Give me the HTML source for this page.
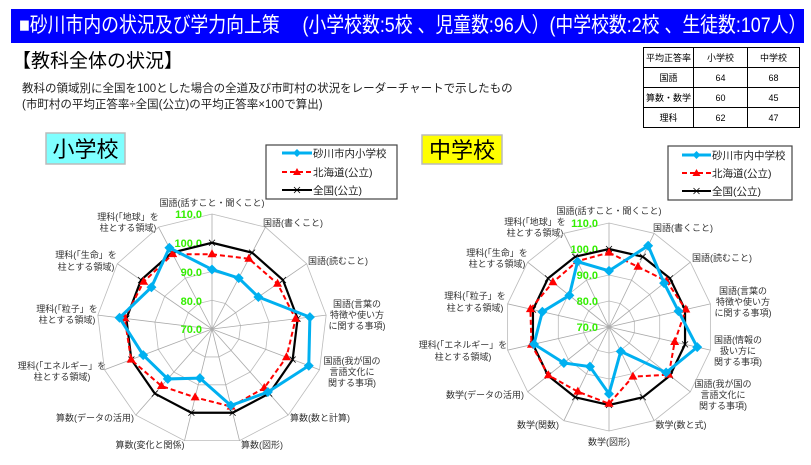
<!DOCTYPE html>
<html><head><meta charset="utf-8"><style>
body{margin:0;width:811px;height:465px;background:#fff;overflow:hidden;font-family:"Liberation Sans","Noto Sans CJK JP",sans-serif;position:relative}
.bar{position:absolute;left:11px;top:9px;width:793px;height:34px;background:#0000ff;color:#fff;font-size:21px;line-height:34px;padding-left:8px;box-sizing:border-box;white-space:nowrap;overflow:hidden}
.bar span{display:inline-block;transform:scaleX(0.85);transform-origin:0 50%}
.h2{position:absolute;left:12px;top:50px;font-size:19px;line-height:24px}
.d{position:absolute;left:22px;font-size:11.5px;color:#222;white-space:nowrap}
table{position:absolute;left:643px;top:47px;border-collapse:collapse;font-size:9px}
td{border:1.5px solid #000;text-align:center;padding:0;height:19px}
svg{position:absolute;left:0;top:0}
</style></head><body>
<div class="bar"><span>■砂川市内の状況及び学力向上策　 (小学校数:5校 、児童数:96人）(中学校数:2校 、生徒数:107人）</span></div>
<div class="h2">【教科全体の状況】</div>
<div class="d" style="top:80px">教科の領域別に全国を100とした場合の全道及び市町村の状況をレーダーチャートで示したもの</div>
<div class="d" style="top:96px">(市町村の平均正答率÷全国(公立)の平均正答率×100で算出)</div>
<table><tr><td style="width:49px">平均正答率</td><td style="width:53px">小学校</td><td style="width:51px">中学校</td></tr>
<tr><td>国語</td><td>64</td><td>68</td></tr><tr><td>算数・数学</td><td>60</td><td>45</td></tr><tr><td>理科</td><td>62</td><td>47</td></tr></table>
<svg id="s" width="811" height="465" xmlns="http://www.w3.org/2000/svg" font-family="Liberation Sans, Noto Sans CJK JP, sans-serif">
<rect x="46" y="133" width="79" height="31" fill="#7fffff" stroke="#bbb" stroke-width="1.5"/>
<text x="85.5" y="157" font-size="22" text-anchor="middle">小学校</text>
<rect x="422" y="135" width="80" height="29" fill="#ffff00" stroke="#bbb" stroke-width="1.5"/>
<text x="462" y="158" font-size="22" text-anchor="middle">中学校</text>
<rect x="266" y="145" width="131" height="54" fill="#fff" stroke="#444" stroke-width="1.2"/>
<rect x="668" y="146" width="124" height="54" fill="#fff" stroke="#444" stroke-width="1.2"/>
<g font-size="10.5" fill="#222">
<text x="313" y="157">砂川市内小学校</text><text x="313" y="176">北海道(公立)</text><text x="313" y="194">全国(公立)</text>
<text x="712" y="159">砂川市内中学校</text><text x="712" y="177">北海道(公立)</text><text x="712" y="195">全国(公立)</text>
</g>
<g font-size="9" fill="#333" text-anchor="middle">
<text x="212" y="206">国語(話すこと・聞くこと)</text>
<text x="293" y="226">国語(書くこと)</text>
<text x="338" y="264">国語(読むこと)</text>
<text x="357" y="307">国語(言葉の</text><text x="357" y="318">特徴や使い方</text><text x="357" y="329">に関する事項)</text>
<text x="352" y="364">国語(我が国の</text><text x="352" y="375">言語文化に</text><text x="352" y="386">関する事項)</text>
<text x="320" y="421">算数(数と計算)</text>
<text x="262" y="448">算数(図形)</text>
<text x="150" y="448">算数(変化と関係)</text>
<text x="95" y="421">算数(データの活用)</text>
<text x="62" y="369">理科(「エネルギー」を</text><text x="62" y="380">柱とする領域)</text>
<text x="67" y="312">理科(「粒子」を</text><text x="67" y="323">柱とする領域)</text>
<text x="86" y="258">理科(「生命」を</text><text x="86" y="270">柱とする領域)</text>
<text x="128" y="220">理科(「地球」を</text><text x="128" y="231">柱とする領域)</text>
<text x="609" y="214">国語(話すこと・聞くこと)</text>
<text x="683" y="231">国語(書くこと)</text>
<text x="722" y="261">国語(読むこと)</text>
<text x="743" y="294">国語(言葉の</text><text x="743" y="305">特徴や使い方</text><text x="743" y="316">に関する事項)</text>
<text x="738" y="343">国語(情報の</text><text x="738" y="354">扱い方に</text><text x="738" y="365">関する事項)</text>
<text x="723" y="387">国語(我が国の</text><text x="723" y="398">言語文化に</text><text x="723" y="409">関する事項)</text>
<text x="681" y="428">数学(数と式)</text>
<text x="609" y="445">数学(図形)</text>
<text x="538" y="428">数学(関数)</text>
<text x="485" y="398">数学(データの活用)</text>
<text x="463" y="348">理科(「エネルギー」を</text><text x="463" y="360">柱とする領域)</text>
<text x="475" y="299">理科(「粒子」を</text><text x="475" y="311">柱とする領域)</text>
<text x="497" y="256">理科(「生命」を</text><text x="497" y="267">柱とする領域)</text>
<text x="535" y="225">理科(「地球」を</text><text x="535" y="236">柱とする領域)</text>
</g>
<g id="grid"></g>
<g font-size="11" fill="#33ee00" text-anchor="end" font-weight="bold">
<text x="202" y="218">110.0</text><text x="202" y="247">100.0</text><text x="202" y="276">90.0</text><text x="202" y="305">80.0</text><text x="202" y="333">70.0</text>
<text x="598" y="227">110.0</text><text x="598" y="253">100.0</text><text x="598" y="279">90.0</text><text x="598" y="305">80.0</text><text x="598" y="331">70.0</text>
</g>
</svg>
<script>
var NS="http://www.w3.org/2000/svg",s=document.getElementById('s'),g=document.getElementById('grid');
function el(t,a,p){var e=document.createElementNS(NS,t);for(var k in a)e.setAttribute(k,a[k]);(p||s).appendChild(e);return e}
function chart(cx,cy,R,blue,red){
 var n=blue.length;
 function pt(i,v){var a=i*2*Math.PI/n,r=(v-70)/40*R;return [cx+r*Math.sin(a),cy-r*Math.cos(a)]}
 [80,90,100,110].forEach(function(v){var p=[];for(var i=0;i<n;i++)p.push(pt(i,v).join(','));el('polygon',{points:p.join(' '),fill:'none',stroke:'#bbb','stroke-width':0.8},g)});
 for(var i=0;i<n;i++){var q=pt(i,110);el('line',{x1:cx,y1:cy,x2:q[0],y2:q[1],stroke:'#aaa','stroke-width':0.8},g)}
 function poly(vals,st){var p=[];for(var i=0;i<n;i++)p.push(pt(i,vals[i]).join(','));return el('polygon',Object.assign({points:p.join(' '),fill:'none'},st))}
 var nat=[];for(var i=0;i<n;i++)nat.push(100);
 poly(nat,{stroke:'#000','stroke-width':2.2});
 for(var i=0;i<n;i++){var q=pt(i,100);el('path',{d:'M'+(q[0]-3)+','+(q[1]-3)+'l6,6m0,-6l-6,6',stroke:'#000','stroke-width':0.8})}
 poly(red,{stroke:'#ff0000','stroke-width':2,'stroke-dasharray':'5,3'});
 for(var i=0;i<n;i++){var q=pt(i,red[i]);el('path',{d:'M'+q[0]+','+(q[1]-5)+'l4.5,8h-9z',fill:'#ff0000'})}
 poly(blue,{stroke:'#00b0f0','stroke-width':3});
 for(var i=0;i<n;i++){var q=pt(i,blue[i]);el('path',{d:'M'+q[0]+','+(q[1]-5)+'l5,5l-5,5l-5,-5z',fill:'#00b0f0'})}
}
chart(212,329,115,[90.7,90,89.6,104.3,106,99.3,97.4,87.6,93.2,95.6,102.4,95.6,101.9],[96,97.6,97.7,99.3,97.7,97.4,97.8,94.5,96.5,100.1,100.6,98.9,99.4]);
chart(609,327,104,[91.6,104.7,97.1,97.4,104.8,98.1,80.4,95.7,86.9,92.2,99.6,96.3,89.5,97.9],[98.6,95.7,98.3,100.3,95.9,99.4,91.2,99.5,97.6,99.8,100.6,101,97.6,98.1]);
function leg(x1,x2,y,t){if(t==0){el('line',{x1:x1,y1:y,x2:x2,y2:y,stroke:'#00b0f0','stroke-width':3});var m=(x1+x2)/2;el('path',{d:'M'+m+','+(y-4)+'l4,4l-4,4l-4,-4z',fill:'#00b0f0'})}
 else if(t==1){el('line',{x1:x1,y1:y,x2:x2,y2:y,stroke:'#f00','stroke-width':2,'stroke-dasharray':'5,3'});var m=(x1+x2)/2;el('path',{d:'M'+m+','+(y-4)+'l4,7h-8z',fill:'#f00'})}
 else{el('line',{x1:x1,y1:y,x2:x2,y2:y,stroke:'#000','stroke-width':2});var m=(x1+x2)/2;el('path',{d:'M'+(m-3)+','+(y-3)+'l6,6m0,-6l-6,6',stroke:'#000','stroke-width':0.8})}}
leg(282,312,153,0);leg(282,312,172,1);leg(282,312,190,2);
leg(682,711,155,0);leg(682,711,173,1);leg(682,711,191,2);
</script>
</body></html>
